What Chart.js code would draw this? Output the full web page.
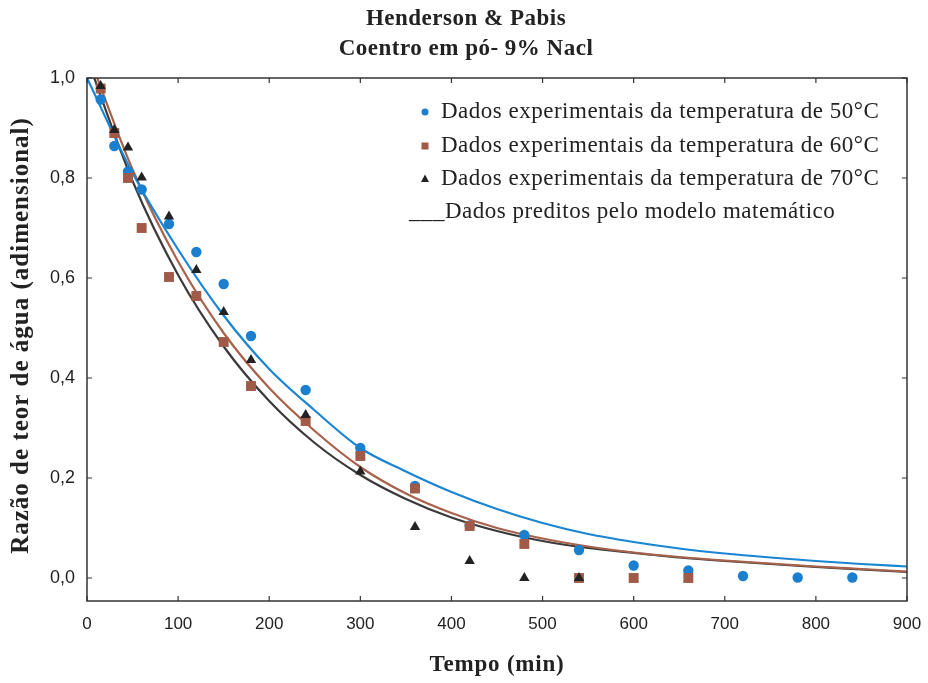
<!DOCTYPE html>
<html>
<head>
<meta charset="utf-8">
<script src="https://cdn.jsdelivr.net/npm/chart.js@4.4.1/dist/chart.umd.min.js"></script>
<style>
  html, body { margin: 0; padding: 0; background: #fff; }
  #wrap { width: 928px; height: 683px; }
</style>
</head>
<body>
<div id="wrap"><canvas id="chart" width="928" height="683"></canvas></div>
<script>
// ---- data ----
const TITLE_LINES = ['Henderson & Pabis', 'Coentro em pó- 9% Nacl'];
const X_TITLE = 'Tempo (min)';
const Y_TITLE = 'Razão de teor de água (adimensional)';
const X_TICKS = [0, 100, 200, 300, 400, 500, 600, 700, 800, 900];
const Y_TICKS = [0.0, 0.2, 0.4, 0.6, 0.8, 1.0];

const LEGEND_LABELS = [
  'Dados experimentais da temperatura de 50°C',
  'Dados experimentais da temperatura de 60°C',
  'Dados experimentais da temperatura de 70°C',
  '___Dados preditos pelo modelo matemático'
];

// experimental points
const T_50 = [15, 30, 45, 60, 90, 120, 150, 180, 240, 300, 360, 420, 480, 540, 600, 660, 720, 780, 840];
const MR_50 = [0.957, 0.864, 0.813, 0.777, 0.708, 0.652, 0.588, 0.484, 0.376, 0.26, 0.184, 0.105, 0.086, 0.056, 0.025, 0.015, 0.004, 0.001, 0.001];
const T_60 = [15, 30, 45, 60, 90, 120, 150, 180, 240, 300, 360, 420, 480, 540, 600, 660];
const MR_60 = [0.979, 0.89, 0.80, 0.70, 0.602, 0.564, 0.472, 0.384, 0.314, 0.244, 0.179, 0.104, 0.068, 0.0, 0.0, 0.0];
const T_70 = [15, 30, 45, 60, 90, 120, 150, 180, 240, 300, 360, 420, 480, 540];
const MR_70 = [0.984, 0.896, 0.861, 0.801, 0.723, 0.616, 0.532, 0.436, 0.326, 0.213, 0.102, 0.034, 0.0, 0.0];

// predicted curves (read at every 50 min)
const T_CURVE = [0, 50, 100, 150, 200, 250, 300, 350, 400, 450, 500, 550, 600, 650, 700, 750, 800, 850, 900];
const FIT_50 = [1.0, 0.81, 0.657, 0.525, 0.418, 0.335, 0.26, 0.213, 0.172, 0.138, 0.11, 0.088, 0.072, 0.059, 0.049, 0.041, 0.034, 0.028, 0.023];
const FIT_60 = [1.055, 0.817, 0.633, 0.49, 0.38, 0.294, 0.222, 0.169, 0.13, 0.1, 0.079, 0.063, 0.051, 0.042, 0.035, 0.029, 0.023, 0.018, 0.013];
const FIT_70 = [1.04, 0.794, 0.606, 0.463, 0.354, 0.27, 0.206, 0.158, 0.121, 0.094, 0.074, 0.06, 0.05, 0.041, 0.034, 0.028, 0.022, 0.017, 0.012];

// colours
const BLUE = '#1b7fd0';
const BROWN = '#a05a47';
const DARK = '#222222';
const BLUE_LINE = '#1a85d2';
const BROWN_LINE = '#a8624c';
const DARK_LINE = '#3a3a3a';

const SERIF = "'Liberation Serif', 'Times New Roman', serif";
const SANS = "'Liberation Sans', Arial, sans-serif";

function toPoints(xs, ys) {
  return xs.map((x, i) => ({ x: x, y: ys[i] }));
}

function pointSet(label, xs, ys, color, style, radius, order) {
  return {
    label: label,
    data: toPoints(xs, ys),
    showLine: false,
    pointStyle: style,
    pointRadius: radius,
    pointBackgroundColor: color,
    pointBorderColor: color,
    pointBorderWidth: 0,
    order: order
  };
}

function curveSet(ys, color) {
  return {
    label: 'fit',
    data: toPoints(T_CURVE, ys),
    showLine: true,
    borderColor: color,
    borderWidth: 2.2,
    pointRadius: 0,
    cubicInterpolationMode: 'monotone',
    fill: false,
    order: 10
  };
}

// frame, inward ticks, titles and legend
const decor = {
  id: 'decor',
  afterDraw(chart) {
    const { ctx, chartArea: a, scales } = chart;
    const xs = scales.x, ys = scales.y;
    ctx.save();

    // frame
    ctx.strokeStyle = '#333';
    ctx.lineWidth = 1.5;
    ctx.strokeRect(a.left, a.top, a.right - a.left, a.bottom - a.top);

    // inward tick marks on all four sides
    ctx.lineWidth = 1.2;
    ctx.beginPath();
    X_TICKS.forEach(v => {
      const px = xs.getPixelForValue(v);
      ctx.moveTo(px, a.bottom); ctx.lineTo(px, a.bottom - 5);
      ctx.moveTo(px, a.top); ctx.lineTo(px, a.top + 5);
    });
    Y_TICKS.forEach(v => {
      const py = ys.getPixelForValue(v);
      ctx.moveTo(a.left, py); ctx.lineTo(a.left + 5, py);
      ctx.moveTo(a.right, py); ctx.lineTo(a.right - 5, py);
    });
    ctx.stroke();

    // chart title
    ctx.fillStyle = '#222';
    ctx.textAlign = 'center';
    ctx.textBaseline = 'middle';
    ctx.letterSpacing = '0.5px';
    ctx.font = 'bold 23px ' + SERIF;
    ctx.fillText(TITLE_LINES[0], 466, 19);
    ctx.fillText(TITLE_LINES[1], 466, 49);

    // axis titles
    ctx.letterSpacing = '0.8px';
    ctx.font = 'bold 23px ' + SERIF;
    ctx.fillText(X_TITLE, (a.left + a.right) / 2, 665);
    ctx.letterSpacing = '1px';
    ctx.font = 'bold 25px ' + SERIF;
    ctx.save();
    ctx.translate(22, (a.top + a.bottom) / 2 - 4);
    ctx.rotate(-Math.PI / 2);
    ctx.fillText(Y_TITLE, 0, 0);
    ctx.restore();

    // legend
    ctx.letterSpacing = '0.5px';
    ctx.font = '23px ' + SERIF;
    ctx.textAlign = 'left';
    const rows = [112, 146, 179, 212];
    const mx = 425;
    // circle
    ctx.fillStyle = BLUE;
    ctx.beginPath(); ctx.arc(mx, rows[0], 3.5, 0, Math.PI * 2); ctx.fill();
    // square
    ctx.fillStyle = BROWN;
    ctx.fillRect(mx - 3.5, rows[1] - 3.5, 7, 7);
    // triangle
    ctx.fillStyle = DARK;
    ctx.beginPath();
    ctx.moveTo(mx, rows[2] - 4.5); ctx.lineTo(mx + 4, rows[2] + 3); ctx.lineTo(mx - 4, rows[2] + 3);
    ctx.closePath(); ctx.fill();

    ctx.fillStyle = '#222';
    for (let i = 0; i < 3; i++) ctx.fillText(LEGEND_LABELS[i], 441, rows[i]);
    ctx.fillText(LEGEND_LABELS[3], 409, rows[3]);

    ctx.restore();
  }
};

new Chart(document.getElementById('chart'), {
  type: 'scatter',
  data: {
    datasets: [
      pointSet('50°C', T_50, MR_50, BLUE, 'circle', 5.2, 3),
      pointSet('60°C', T_60, MR_60, BROWN, 'rect', 7, 2),
      pointSet('70°C', T_70, MR_70, DARK, 'triangle', 6, 1),
      curveSet(FIT_50, BLUE_LINE),
      curveSet(FIT_60, BROWN_LINE),
      curveSet(FIT_70, DARK_LINE)
    ]
  },
  options: {
    responsive: false,
    animation: false,
    layout: { padding: { top: 78, right: 21, left: 0, bottom: 0 } },
    plugins: {
      legend: { display: false },
      title: { display: false },
      tooltip: { enabled: false }
    },
    scales: {
      x: {
        type: 'linear',
        min: 0,
        max: 900,
        afterBuildTicks: (scale) => { scale.ticks = X_TICKS.map(v => ({ value: v })); },
        afterFit: (scale) => {
          scale.height = 82;
          scale.paddingLeft = 0;
          scale.paddingRight = 0;
        },
        grid: { display: false, drawTicks: false },
        border: { display: false },
        ticks: {
          padding: 13,
          color: '#222',
          font: { family: SANS, size: 17 },
          maxRotation: 0
        }
      },
      y: {
        type: 'linear',
        min: -0.046,
        max: 1.0,
        afterBuildTicks: (scale) => { scale.ticks = Y_TICKS.map(v => ({ value: v })); },
        afterFit: (scale) => {
          scale.width = 87;
          scale.paddingTop = 0;
          scale.paddingBottom = 0;
        },
        grid: { display: false, drawTicks: false },
        border: { display: false },
        ticks: {
          padding: 12,
          color: '#222',
          font: { family: SANS, size: 18 },
          callback: (v) => v.toFixed(1).replace('.', ',')
        }
      }
    }
  },
  plugins: [decor]
});
</script>
</body>
</html>
